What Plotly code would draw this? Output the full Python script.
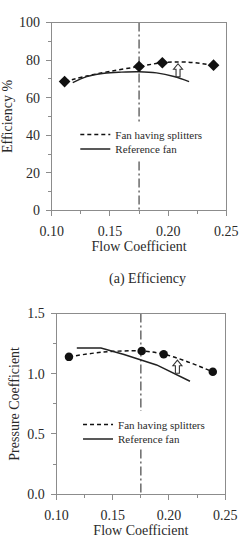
import plotly.graph_objects as go

# ---------------- data ----------------
# (a) Efficiency
eff_split_x = [0.111, 0.175, 0.195, 0.239]
eff_split_y = [68.6, 76.6, 78.6, 77.3]
eff_split_curve_x = [0.111, 0.13, 0.15, 0.175, 0.195, 0.215, 0.239]
eff_split_curve_y = [68.6, 71.5, 74.0, 76.6, 78.6, 79.0, 77.3]
eff_ref_x = [0.118, 0.13, 0.145, 0.16, 0.175, 0.19, 0.205, 0.218]
eff_ref_y = [68.0, 71.2, 73.0, 73.6, 73.8, 73.2, 71.3, 68.6]
eff_design_x = [0.175, 0.175, None, 0.175, 0.175]
eff_design_y = [100, 47, None, 26, 0]
eff_arrow = (0.2085, 74.6)

# (b) Pressure coefficient
pc_split_x = [0.111, 0.1757, 0.1953, 0.239]
pc_split_y = [1.140, 1.189, 1.162, 1.016]
pc_split_curve_x = [0.111, 0.14, 0.1757, 0.1953, 0.215, 0.239]
pc_split_curve_y = [1.140, 1.178, 1.189, 1.162, 1.105, 1.016]
pc_ref_x = [0.118, 0.1395, 0.16, 0.175, 0.189, 0.2187]
pc_ref_y = [1.213, 1.213, 1.160, 1.118, 1.073, 0.938]
pc_design_x = [0.175, 0.175, None, 0.175, 0.175]
pc_design_y = [1.5, 0.69, None, 0.37, 0.0]
pc_arrow = (0.2075, 1.058)

x_ticks = [0.10, 0.15, 0.20, 0.25]
x_ticklabels = ["0.10", "0.15", "0.20", "0.25"]
eff_ticks = [0, 20, 40, 60, 80, 100]
pc_ticks = [0.0, 0.5, 1.0, 1.5]
pc_ticklabels = ["0.0", "0.5", "1.0", "1.5"]

names = ["Fan having splitters", "Reference fan"]

FONT = "Liberation Serif, Times New Roman, serif"
TXT = "#2a2a2a"
AX = "#8c8c8c"
W, H = 251, 556

fig = go.Figure()

dash_pat = "4px,3px"
dashdot = "9px,3px,2px,3px"

# top chart
fig.add_trace(go.Scatter(x=eff_design_x, y=eff_design_y, mode="lines",
                         line=dict(color="#333", width=1.1, dash=dashdot),
                         showlegend=False, xaxis="x", yaxis="y", hoverinfo="skip"))
fig.add_trace(go.Scatter(x=eff_split_curve_x, y=eff_split_curve_y, mode="lines",
                         line=dict(color="#111", width=1.5, dash=dash_pat, shape="spline"),
                         name=names[0], legend="legend", xaxis="x", yaxis="y"))
fig.add_trace(go.Scatter(x=eff_ref_x, y=eff_ref_y, mode="lines",
                         line=dict(color="#222", width=1.4, shape="spline"),
                         name=names[1], legend="legend2", xaxis="x", yaxis="y"))
fig.add_trace(go.Scatter(x=eff_split_x, y=eff_split_y, mode="markers",
                         marker=dict(symbol="diamond", size=9, color="#111"),
                         showlegend=False, xaxis="x", yaxis="y"))

# bottom chart
fig.add_trace(go.Scatter(x=pc_design_x, y=pc_design_y, mode="lines",
                         line=dict(color="#333", width=1.1, dash=dashdot),
                         showlegend=False, xaxis="x2", yaxis="y2", hoverinfo="skip"))
fig.add_trace(go.Scatter(x=pc_split_curve_x, y=pc_split_curve_y, mode="lines",
                         line=dict(color="#111", width=1.5, dash=dash_pat, shape="spline"),
                         name=names[0], legend="legend3", xaxis="x2", yaxis="y2"))
fig.add_trace(go.Scatter(x=pc_ref_x, y=pc_ref_y, mode="lines",
                         line=dict(color="#222", width=1.5),
                         name=names[1], legend="legend4", xaxis="x2", yaxis="y2"))
fig.add_trace(go.Scatter(x=pc_split_x, y=pc_split_y, mode="markers",
                         marker=dict(symbol="circle", size=8.5, color="#111"),
                         showlegend=False, xaxis="x2", yaxis="y2"))

tfont = dict(family=FONT, size=14, color=TXT)
axis_common = dict(showgrid=False, zeroline=False, showline=True, linecolor=AX,
                   linewidth=1, mirror=True, ticks="outside", ticklen=5, tickcolor=AX,
                   tickfont=tfont)


def minor(d):
    return dict(ticks="outside", ticklen=3, tickcolor=AX, dtick=d)


def leg(xpx, ypx):
    return dict(x=xpx / W, y=1 - ypx / H, xanchor="left", yanchor="middle",
                bgcolor="rgba(0,0,0,0)", itemwidth=30,
                font=dict(family=FONT, size=11, color=TXT))


# hollow up-arrow outline in pixel units around its anchor
arrow_path = "M -2,-6.5 L 2,-6.5 L 2,1 L 4.5,1 L 0,6.5 L -4.5,1 L -2,1 Z"

fig.update_layout(
    width=W, height=H, margin=dict(l=0, r=0, t=0, b=0),
    paper_bgcolor="white", plot_bgcolor="white",
    font=dict(family=FONT, color=TXT),
    xaxis=dict(axis_common, domain=[44 / W, 237 / W], range=[0.10, 0.25],
               tickvals=x_ticks, ticktext=x_ticklabels, anchor="y", minor=minor(0.025),
               ticklabelstandoff=3,
               title=dict(text="Flow Coefficient", font=tfont, standoff=2)),
    yaxis=dict(axis_common, domain=[1 - 209 / H, 1 - 16 / H], range=[0, 100],
               tickvals=eff_ticks, anchor="x", minor=minor(10), ticklabelstandoff=3,
               title=dict(text="Efficiency %", font=tfont, standoff=4)),
    xaxis2=dict(axis_common, domain=[49.3 / W, 235.7 / W], range=[0.10, 0.25],
                tickvals=x_ticks, ticktext=x_ticklabels, anchor="y2", minor=minor(0.025),
                ticklabelstandoff=3,
                title=dict(text="Flow Coefficient", font=tfont, standoff=2)),
    yaxis2=dict(axis_common, domain=[1 - 500.7 / H, 1 - 315 / H], range=[0, 1.5],
                tickvals=pc_ticks, ticktext=pc_ticklabels, anchor="x2", minor=minor(0.25),
                ticklabelstandoff=3,
                title=dict(text="Pressure Coefficient", font=tfont, standoff=4)),
    legend=leg(70, 131),
    legend2=leg(70, 146),
    legend3=leg(73, 429),
    legend4=leg(73, 444),
    showlegend=True,
    annotations=[
        dict(text="(a) Efficiency", x=150 / W, y=1 - 280 / H, xref="paper", yref="paper",
             showarrow=False, font=tfont),
    ],
    shapes=[
        dict(type="path", xref="x", yref="y", xsizemode="pixel", ysizemode="pixel",
             xanchor=eff_arrow[0], yanchor=eff_arrow[1], path=arrow_path,
             line=dict(color="#333", width=1.1), fillcolor="white"),
        dict(type="path", xref="x2", yref="y2", xsizemode="pixel", ysizemode="pixel",
             xanchor=pc_arrow[0], yanchor=pc_arrow[1], path=arrow_path,
             line=dict(color="#333", width=1.1), fillcolor="white"),
    ],
)

fig.write_html("out.html")
